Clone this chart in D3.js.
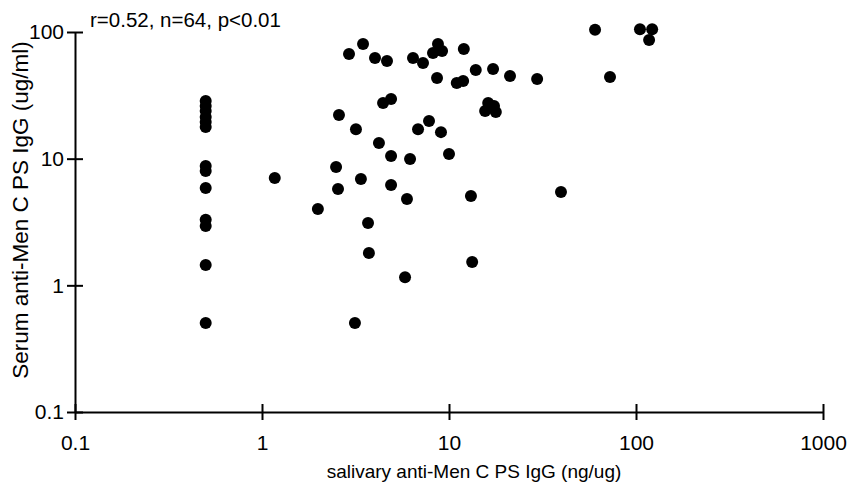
<!DOCTYPE html>
<html>
<head>
<meta charset="utf-8">
<script src="https://cdn.jsdelivr.net/npm/d3@7"></script>
<style>
  html, body { margin: 0; padding: 0; background: #fff; }
  svg { display: block; font-family: "Liberation Sans", Arial, sans-serif; }
</style>
</head>
<body>
<svg id="chart" width="849" height="483"></svg>
<script>
// salivary (x) and serum (y) anti-Men C PS IgG, one entry per subject
const salivary = [
  0.5, 0.5, 0.5, 0.5, 0.5, 0.5, 0.5, 0.5, 0.5, 0.5, 0.5, 0.5, 0.5,
  1.17, 1.99, 2.49, 2.55, 2.58, 2.92, 3.47, 3.18, 3.38, 3.69, 3.73, 3.14,
  4.02, 4.66, 4.22, 4.44, 4.9, 4.9, 4.9, 6.19, 5.96, 5.82, 6.42, 7.26,
  8.21, 8.73, 9.18, 8.63, 6.83, 7.82, 9.06, 10.0, 11.0, 11.9, 12.0, 13.1,
  13.3, 13.9, 17.2, 21.2, 29.6, 16.2, 17.4, 15.6, 17.8, 39.7, 60.4, 72.6,
  105, 122, 117.5
];
const serum = [
  28.5, 26.1, 23.8, 21.3, 19.5, 17.8, 8.75, 8.0, 5.87, 3.3, 2.94, 1.45, 0.504,
  7.04, 4.01, 8.6, 5.76, 22.1, 67.0, 80.4, 17.1, 6.91, 3.1, 1.8, 0.504,
  62.3, 59.0, 13.3, 27.5, 29.6, 10.5, 6.2, 9.94, 4.81, 1.16, 62.3, 56.9,
  68.2, 80.4, 70.8, 43.3, 17.1, 19.8, 16.2, 10.9, 39.6, 41.0, 73.4, 5.07,
  1.53, 50.1, 51.0, 45.0, 42.6, 27.5, 26.1, 23.8, 23.4, 5.46, 104, 44.1,
  105, 105, 86.5
];
const xTicks = [0.1, 1, 10, 100, 1000];
const yTicks = [0.1, 1, 10, 100];
const xTitle = "salivary anti-Men C PS IgG (ng/ug)";
const yTitle = "Serum anti-Men C PS IgG (ug/ml)";
const statsText = "r=0.52, n=64, p<0.01";

const points = salivary.map((v, i) => ({ x: v, y: serum[i] }));

const svg = d3.select("#chart");
const plotLeft = 75, plotRight = 823, plotTop = 32, plotBottom = 412;

const x = d3.scaleLog().domain([0.1, 1000]).range([plotLeft, plotRight]);
const y = d3.scaleLog().domain([0.1, 100]).range([plotBottom, plotTop]);
const fmt = (d) => String(d);

const xAxis = svg.append("g")
  .attr("transform", `translate(0,${plotBottom})`)
  .call(d3.axisBottom(x).tickValues(xTicks).tickFormat(fmt).tickSizeOuter(0));
const yAxis = svg.append("g")
  .attr("transform", `translate(${plotLeft},0)`)
  .call(d3.axisLeft(y).tickValues(yTicks).tickFormat(fmt).tickSizeOuter(0));

// ticks cross the axis line on both sides
xAxis.selectAll(".tick line").attr("y1", -8).attr("y2", 8);
yAxis.selectAll(".tick line").attr("x1", -8).attr("x2", 8);

[xAxis, yAxis].forEach((g) => {
  g.select(".domain").attr("stroke", "#000").attr("stroke-width", 2);
  g.selectAll(".tick line").attr("stroke", "#000").attr("stroke-width", 2);
  g.selectAll(".tick text")
    .attr("fill", "#000")
    .style("font-family", "\"Liberation Sans\", Arial, sans-serif")
    .style("font-size", "21px");
});
xAxis.selectAll(".tick text").attr("y", 23);
yAxis.selectAll(".tick text").attr("x", -11);

svg.append("g")
  .selectAll("circle")
  .data(points)
  .join("circle")
  .attr("cx", (d) => x(d.x))
  .attr("cy", (d) => y(d.y))
  .attr("r", 6)
  .attr("fill", "#000");

svg.append("text")
  .attr("x", 90)
  .attr("y", 27)
  .style("font-size", "20.5px")
  .text(statsText);

svg.append("text")
  .attr("x", 474)
  .attr("y", 478)
  .attr("text-anchor", "middle")
  .style("font-size", "19px")
  .text(xTitle);

svg.append("text")
  .attr("transform", "translate(28,210) rotate(-90)")
  .attr("text-anchor", "middle")
  .style("font-size", "22.5px")
  .text(yTitle);
</script>
</body>
</html>
